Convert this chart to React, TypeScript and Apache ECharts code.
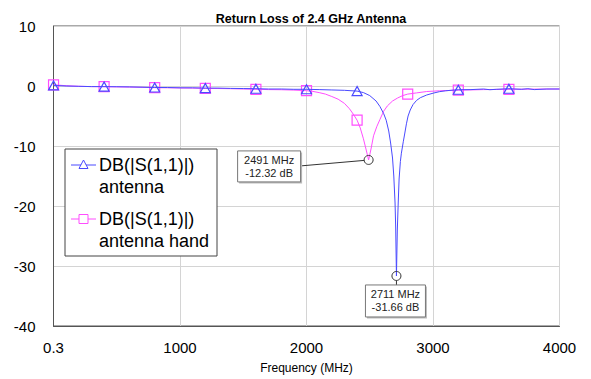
import React, { useEffect, useRef } from "react";
import * as echarts from "echarts";

const titleText = "Return Loss of 2.4 GHz Antenna";
const xAxisName = "Frequency (MHz)";
const xTicks = [0, 1000, 2000, 3000, 4000];
const xTickLabels = ["0.3", "1000", "2000", "3000", "4000"];

const seriesNames = ["DB(|S(1,1)|)\nantenna", "DB(|S(1,1)|)\nantenna hand"];
const seriesColors = ["#4a4aff", "#ff4dff"];

const blueFreq = [0.3, 100, 200, 300, 400, 500, 600, 700, 800, 900, 1000, 1100, 1200, 1300, 1400, 1500, 1600, 1700, 1800, 1900, 2000, 2100, 2200, 2300, 2400, 2450, 2500, 2550, 2580, 2610, 2630, 2650, 2665, 2680, 2690, 2700, 2705, 2711, 2718, 2725, 2732, 2742, 2750, 2765, 2776, 2790, 2803, 2820, 2842, 2870, 2900, 2950, 3000, 3050, 3100, 3150, 3200, 3300, 3400, 3450, 3500, 3600, 3700, 3750, 3800, 3900, 4000];
const blueDb = [0.1, 0.0, -0.05, -0.1, -0.1, -0.12, -0.15, -0.2, -0.25, -0.25, -0.3, -0.3, -0.35, -0.35, -0.4, -0.42, -0.45, -0.5, -0.5, -0.55, -0.55, -0.6, -0.66, -0.72, -0.85, -1.1, -1.6, -2.5, -3.4, -4.6, -5.7, -7.5, -9.5, -12.0, -15.0, -19.5, -23.5, -31.66, -24.0, -19.5, -15.5, -12.6, -11.2, -9.3, -8.0, -6.3, -5.0, -4.0, -3.1, -2.4, -1.95, -1.5, -1.2, -0.95, -0.8, -0.7, -0.62, -0.6, -0.5, -0.62, -0.55, -0.45, -0.55, -0.45, -0.6, -0.5, -0.5];

const pinkFreq = [0.3, 100, 200, 300, 400, 500, 600, 700, 800, 900, 1000, 1100, 1200, 1300, 1400, 1500, 1600, 1700, 1800, 1900, 2000, 2050, 2100, 2150, 2200, 2250, 2300, 2340, 2370, 2400, 2425, 2450, 2470, 2491, 2510, 2530, 2555, 2580, 2610, 2640, 2680, 2720, 2760, 2800, 2870, 2950, 3050, 3200, 3400, 3600, 3800, 4000];
const pinkDb = [0.2, 0.05, -0.05, -0.1, -0.12, -0.15, -0.18, -0.22, -0.28, -0.3, -0.33, -0.35, -0.4, -0.42, -0.45, -0.5, -0.55, -0.6, -0.62, -0.68, -0.78, -0.9, -1.1, -1.35, -1.75, -2.2, -2.9, -3.8, -4.7, -5.7, -7.0, -8.8, -10.5, -12.32, -10.5, -8.3, -6.8, -5.6, -4.2, -3.3, -2.5, -2.0, -1.6, -1.35, -1.15, -0.92, -0.8, -0.7, -0.6, -0.55, -0.52, -0.5];

const markerFreqs = [0.3, 400, 800, 1200, 1600, 2000, 2400, 2800, 3200, 3600];

const annotFreq = [2491, 2711];
const annotDb = [-12.32, -31.66];
const annotLines = [["2491 MHz", "-12.32 dB"], ["2711 MHz", "-31.66 dB"]];

const FONT = "Arial, 'Liberation Sans', sans-serif";

function buildData(freq: number[], db: number[], symbol: string) {
  return freq.map((f, i) => {
    const isMarker = markerFreqs.some((m) => Math.abs(m - f) < 1);
    return isMarker
      ? { value: [f, db[i]], symbol }
      : { value: [f, db[i]], symbol: "none" };
  });
}

export default function App() {
  const ref = useRef<HTMLDivElement>(null);
  useEffect(() => {
    document.body.style.margin = "0";
    if (!ref.current) return;
    const chart = echarts.init(ref.current, undefined, { renderer: "svg" });
    const symbols = ["triangle", "rect"];
    const option: any = {
      animation: false,
      backgroundColor: "#fff",
      title: {
        text: titleText,
        left: 306,
        textAlign: "center",
        top: 7,
        textStyle: { fontFamily: FONT, fontSize: 12.5, fontWeight: "bold", color: "#000" },
      },
      grid: {
        left: 53.5,
        right: 31.5,
        top: 26,
        bottom: 51,
        show: true,
        borderColor: "#555",
        borderWidth: 1,
      },
      xAxis: {
        type: "value",
        min: 0,
        max: 4000,
        interval: 1000,
        name: xAxisName,
        nameLocation: "middle",
        nameGap: 36,
        nameTextStyle: { fontFamily: FONT, fontSize: 12, color: "#000" },
        axisLine: { show: true, onZero: false, lineStyle: { color: "#555" } },
        axisTick: { show: false },
        axisLabel: {
          fontFamily: FONT,
          fontSize: 15,
          color: "#000",
          margin: 14,
          formatter: (v: number) => {
            const i = xTicks.indexOf(v);
            return i >= 0 ? xTickLabels[i] : String(v);
          },
        },
        splitLine: { show: true, lineStyle: { color: "#d4d4d4" } },
      },
      yAxis: {
        type: "value",
        min: -40,
        max: 10,
        interval: 10,
        axisLine: { show: true, onZero: false, lineStyle: { color: "#555" } },
        axisTick: { show: false },
        axisLabel: { fontFamily: FONT, fontSize: 15, color: "#000", margin: 18 },
        splitLine: { show: true, lineStyle: { color: "#d4d4d4" } },
      },
      series: [
        { freq: pinkFreq, db: pinkDb, idx: 1 },
        { freq: blueFreq, db: blueDb, idx: 0 },
      ].map((s) => ({
        type: "line",
        name: seriesNames[s.idx],
        data: buildData(s.freq, s.db, symbols[s.idx]),
        showAllSymbol: true,
        symbolSize: s.idx === 0 ? [10, 9] : 10,
        lineStyle: { color: seriesColors[s.idx], width: 1 },
        itemStyle: { color: "rgba(255,255,255,0)", borderColor: seriesColors[s.idx], borderWidth: 1.2 },
        emphasis: { disabled: true },
        z: s.idx === 0 ? 3 : 2,
      })),
    };
    chart.setOption(option);

    const graphics: any[] = [];
    // Legend
    const lgX = 65, lgY = 149, lgW = 152, lgH = 107;
    graphics.push({
      type: "rect",
      shape: { x: lgX, y: lgY, width: lgW, height: lgH },
      style: { fill: "#fff", stroke: "#444", lineWidth: 1 },
      z: 100,
    });
    const rowYs = [165, 219];
    seriesNames.forEach((name, i) => {
      const y = rowYs[i];
      graphics.push({
        type: "line",
        shape: { x1: lgX + 6, y1: y, x2: lgX + 31, y2: y },
        style: { stroke: seriesColors[i], lineWidth: 1 },
        z: 101,
      });
      if (i === 0) {
        graphics.push({
          type: "polygon",
          shape: { points: [[lgX + 18.5, y - 5], [lgX + 14, y + 3.5], [lgX + 23, y + 3.5]] },
          style: { fill: "#fff", stroke: seriesColors[i], lineWidth: 1 },
          z: 102,
        });
      } else {
        graphics.push({
          type: "rect",
          shape: { x: lgX + 14, y: y - 4.5, width: 9, height: 9 },
          style: { fill: "#fff", stroke: seriesColors[i], lineWidth: 1 },
          z: 102,
        });
      }
      graphics.push({
        type: "text",
        x: lgX + 34,
        y: y - 11,
        style: {
          text: name,
          font: `18px ${FONT}`,
          fill: "#000",
          lineHeight: 22,
          verticalAlign: "top",
        },
        z: 102,
      });
    });

    // Annotations
    annotFreq.forEach((f, i) => {
      const [px, py] = chart.convertToPixel({ gridIndex: 0 }, [f, annotDb[i]]) as number[];
      graphics.push({
        type: "circle",
        shape: { cx: px, cy: py, r: 4.5 },
        style: { fill: "none", stroke: "#333", lineWidth: 1 },
        z: 110,
      });
      let bx: number, by: number, bw: number, bh: number;
      if (i === 0) {
        bw = 63; bh = 31; bx = px - 131; by = py - 9;
        graphics.push({
          type: "line",
          shape: { x1: bx + bw, y1: by + 15, x2: px - 4.5, y2: py + 0.5 },
          style: { stroke: "#333", lineWidth: 1 },
          z: 110,
        });
      } else {
        bw = 60; bh = 32; bx = px - 31; by = py + 9;
        graphics.push({
          type: "line",
          shape: { x1: px, y1: py + 4.5, x2: px, y2: by },
          style: { stroke: "#333", lineWidth: 1 },
          z: 110,
        });
      }
      graphics.push({
        type: "rect",
        shape: { x: bx + 1.5, y: by + 1.5, width: bw, height: bh },
        style: { fill: "#bbb", stroke: "none" },
        z: 110,
      });
      graphics.push({
        type: "rect",
        shape: { x: bx, y: by, width: bw, height: bh },
        style: { fill: "#fff", stroke: "#777", lineWidth: 1 },
        z: 111,
      });
      graphics.push({
        type: "text",
        x: bx + bw / 2,
        y: by + bh / 2,
        style: {
          text: annotLines[i].join("\n"),
          font: `11px ${FONT}`,
          fill: "#222",
          lineHeight: 13,
          align: "center",
          verticalAlign: "middle",
        },
        z: 112,
      });
    });
    chart.setOption({ graphic: graphics });

    return () => chart.dispose();
  }, []);
  return <div ref={ref} style={{ width: 591, height: 379 }} />;
}
